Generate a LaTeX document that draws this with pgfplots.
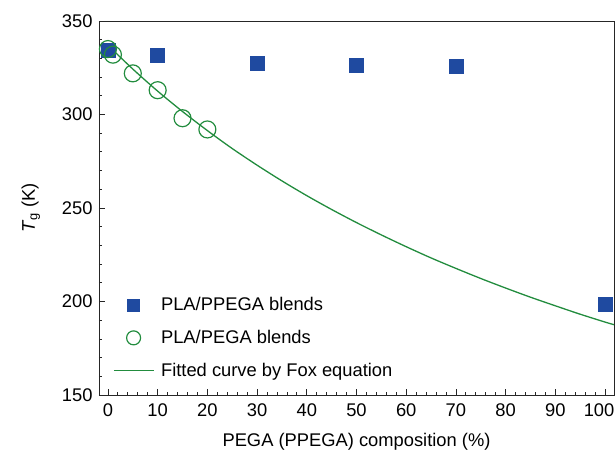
\documentclass[border=0pt]{standalone}
\usepackage{fontspec}
\setmainfont{Liberation Sans}
\usepackage{pgfplots}
\pgfplotsset{compat=1.18}

\definecolor{ppegablue}{RGB}{31,74,160}
\definecolor{foxgreen}{RGB}{34,140,62}

\newcommand{\lblfont}{\fontsize{18.4}{22}\selectfont}

\begin{document}
\begin{tikzpicture}
\begin{axis}[
  scale only axis,
  width=515bp, height=374bp,
  xmin=-1.8, xmax=101.8,
  ymin=150, ymax=350,
  xtick={0,10,...,100},
  xticklabels={0,10,20,30,40,50,60,70,80,90,\hspace*{-12bp}100},
  ytick={150,200,...,350},
  minor x tick num=4,
  minor y tick num=4,
  tick pos=left,
  tick align=inside,
  major tick length=6bp,
  minor tick length=3.5bp,
  axis line style={line width=0.9bp, black!85},
  every tick/.style={black!85, line width=0.8bp},
  /pgf/number format/assume math mode=true,
  tick label style={font=\lblfont},
  xticklabel style={yshift=-5bp},
  yticklabel style={xshift=-3bp},
  xlabel={PEGA (PPEGA) composition (\%)},
  ylabel={\textit{T}\textsubscript{g} (K)},
  label style={font=\lblfont},
  xlabel style={yshift=-10bp},
  ylabel style={yshift=15bp},
  legend style={draw=none, fill=none, at={(0.027,0.266)}, anchor=north west,
    inner sep=0pt, font=\lblfont, row sep=14bp,
    /tikz/every odd column/.append style={column sep=5bp},
    legend cell align=left},
  legend image code/.code={
    \draw[mark repeat=2, mark phase=2] plot coordinates {(0cm,0cm) (0.7cm,0cm) (1.4cm,0cm)};},
]
% PLA/PPEGA blends
\addplot[only marks, mark=square*, mark size=7bp, draw=ppegablue, fill=ppegablue,
  legend image post style={mark size=6bp}]
  coordinates {(0,334.5) (10,331.5) (30,327.5) (50,326.5) (70,326) (100,198.5)};
\addlegendentry{PLA/PPEGA blends}
% PLA/PEGA blends
\addplot[only marks, mark=o, mark size=8.5bp, line width=1.2bp, draw=foxgreen,
  legend image post style={mark size=7bp}]
  coordinates {(0,335) (1,332) (5,322) (10,313) (15,298) (20,292)};
\addlegendentry{PLA/PEGA blends}
% Fox equation, Tg1 = 337 K, Tg2 = 189 K
\addplot[no marks, smooth, line width=1.3bp, foxgreen]
  coordinates {
    (0,337.0) (5,324.3) (10,312.5) (15,301.6) (20,291.4) (25,281.8)
    (30,272.9) (35,264.5) (40,256.6) (45,249.2) (50,242.2) (55,235.6)
    (60,229.3) (65,223.3) (70,217.7) (75,212.3) (80,207.2) (85,202.3)
    (90,197.7) (95,193.2) (100,189.0) (101.8,187.6)};
\addlegendentry{Fitted curve by Fox equation}
\end{axis}
\pgfresetboundingbox
\path (current axis.south west) ++(-99bp,-59bp) coordinate (bl);
\path (current axis.north east) ++(2bp,21bp) coordinate (tr);
\path (bl) rectangle (tr);
\end{tikzpicture}
\end{document}
